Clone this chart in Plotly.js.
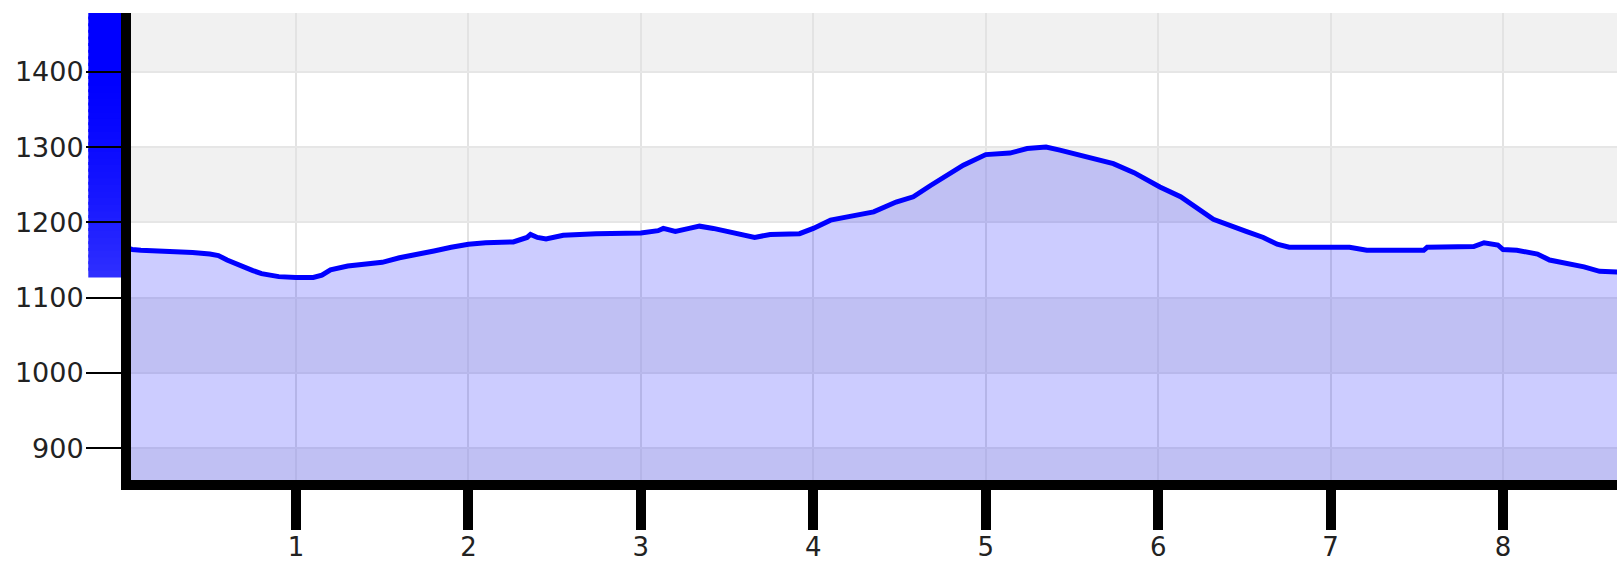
<!DOCTYPE html>
<html>
<head>
<meta charset="utf-8">
<script src="https://cdn.plot.ly/plotly-3.0.1.min.js"></script>
<style>
html,body{margin:0;padding:0;background:#ffffff;}
#chart{width:1617px;height:566px;}
</style>
</head>
<body>
<div id="chart"></div>
<script>
// Distance along the route (km)
const distanceKm = [0.00,0.05,0.10,0.20,0.30,0.40,0.50,0.55,0.60,0.65,0.70,0.75,0.80,0.85,0.90,1.00,1.10,1.15,1.20,1.30,1.40,1.50,1.60,1.70,1.80,1.90,2.00,2.10,2.26,2.34,2.36,2.40,2.45,2.55,2.74,3.00,3.10,3.13,3.20,3.28,3.34,3.42,3.52,3.60,3.66,3.75,3.92,4.00,4.10,4.19,4.35,4.48,4.58,4.68,4.77,4.87,5.00,5.14,5.24,5.35,5.43,5.55,5.66,5.74,5.86,6.01,6.13,6.24,6.32,6.51,6.61,6.69,6.76,7.11,7.21,7.54,7.56,7.83,7.89,7.97,8.00,8.08,8.20,8.27,8.37,8.47,8.56,8.70];
// Elevation (m)
const elevationM = [1167,1164,1163,1162,1162,1160,1158,1156,1150,1145,1140,1136,1132,1130,1128,1127,1127,1130,1137,1142,1145,1147,1153,1157,1162,1167,1171,1173,1174,1180,1184,1180,1178,1183,1185,1186,1189,1192,1188,1192,1195,1192,1187,1183,1180,1184,1185,1192,1203,1207,1214,1227,1234,1249,1262,1276,1290,1292,1298,1300,1296,1289,1284,1278,1266,1247,1234,1216,1204,1188,1180,1171,1167,1167,1163,1163,1167,1168,1173,1170,1164,1163,1158,1150,1146,1141,1135,1134];

const xTickVals = [1,2,3,4,5,6,7,8];
const xTickText = ['1','2','3','4','5','6','7','8'];
const yTickVals = [900,1000,1100,1200,1300,1400];
const yTickText = ['900','1000','1100','1200','1300','1400'];

const xRange = [0.043, 8.661];
const yRange = [858, 1478];

const FONT = '"DejaVu Sans", Verdana, sans-serif';
const TEXT_COLOR = '#222222';

// alternating horizontal bands (grey / white) between tick boundaries
const bounds = [yRange[0]].concat(yTickVals, [yRange[1]]);
const shapes = [];
for (let i = 0; i < bounds.length - 1; i++) {
  if (i % 2 === 0) {
    shapes.push({type:'rect', xref:'paper', yref:'y', x0:0, x1:1,
      y0:bounds[i], y1:bounds[i+1], fillcolor:'#f1f1f1', line:{width:0}, layer:'below'});
  }
}

// blue range indicator bar on the left, from the minimum elevation to the top
const minElev = Math.min.apply(null, elevationM);
const barX0 = -0.02874, barX1 = 0;
const nSlices = 40;
for (let k = 0; k < nSlices; k++) {
  const a = minElev + (yRange[1] - minElev) * k / nSlices;
  const b = (k === nSlices - 1) ? yRange[1] : minElev + (yRange[1] - minElev) * (k + 1) / nSlices + 4;
  const t = k / nSlices; // 0 bottom, 1 top
  const r = Math.round(46 * Math.pow(Math.max(0, 1 - t / 0.75), 1.4));
  shapes.push({type:'rect', xref:'paper', yref:'y', x0:barX0, x1:barX1,
    y0:a, y1:b, fillcolor:'rgb(' + r + ',' + r + ',255)', line:{width:0}, layer:'below'});
}

const trace = {
  type:'scatter', mode:'lines',
  x: distanceKm, y: elevationM,
  fill:'tozeroy', fillcolor:'rgba(0,0,255,0.2)',
  line:{color:'#0000ff', width:5},
  hoverinfo:'skip'
};

const layout = {
  width:1617, height:566,
  margin:{l:131, r:0, t:13, b:86, pad:0},
  paper_bgcolor:'#ffffff',
  plot_bgcolor:'rgba(0,0,0,0)',
  showlegend:false,
  font:{family:FONT, color:TEXT_COLOR, size:27},
  xaxis:{
    range:xRange, tickmode:'array', tickvals:xTickVals, ticktext:xTickText,
    showline:true, linecolor:'#000000', linewidth:10,
    ticks:'outside', ticklen:40, tickwidth:10, tickcolor:'#000000',
    ticklabelstandoff:-5,
    showgrid:true, gridcolor:'#e3e3e3', gridwidth:2, zeroline:false,
    tickfont:{family:FONT, size:26, color:TEXT_COLOR}, fixedrange:true
  },
  yaxis:{
    range:yRange, tickmode:'array', tickvals:yTickVals, ticktext:yTickText,
    showline:true, linecolor:'#000000', linewidth:10,
    ticks:'outside', ticklen:35, tickwidth:2, tickcolor:'#000000',
    ticklabelstandoff:-3,
    showgrid:true, gridcolor:'#e6e6e6', gridwidth:2, zeroline:false,
    tickfont:{family:FONT, size:27, color:TEXT_COLOR}, fixedrange:true
  },
  shapes:shapes
};

Plotly.newPlot('chart', [trace], layout, {displayModeBar:false, staticPlot:true});
</script>
</body>
</html>
